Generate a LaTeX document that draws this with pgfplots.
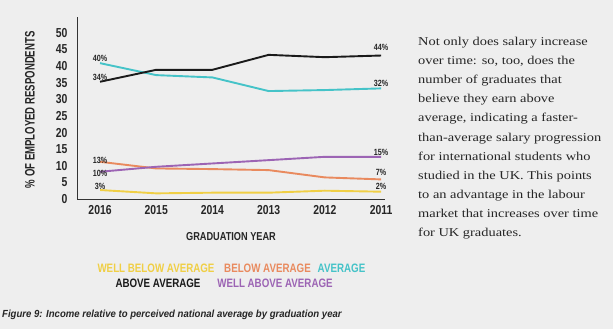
\documentclass[border=0pt]{standalone}
\usepackage{pgfplots}
\pgfplotsset{compat=1.18}
\usepackage{fontspec}
\setmainfont{Liberation Serif}
\newfontfamily\cond[FakeStretch=0.8]{Liberation Sans}
\newfontfamily\condn[FakeStretch=0.7]{Liberation Sans}
\newfontfamily\capf[FakeStretch=0.93]{Liberation Sans}
\newfontfamily\rtext[FakeStretch=1.2]{Liberation Serif}
\definecolor{bg}{HTML}{EEEEEE}
\definecolor{cteal}{HTML}{45C3C8}
\definecolor{corange}{HTML}{E98A5E}
\definecolor{cpurple}{HTML}{9C64B4}
\definecolor{cyellow}{HTML}{F0CF45}
\definecolor{cblack}{HTML}{1A1A1A}
\begin{document}
\begin{tikzpicture}[x=1pt,y=1pt]
\fill[bg] (0,0) rectangle (613,329);
\begin{axis}[
  scale only axis, width=308pt, height=182pt,
  at={(77pt,130pt)}, anchor=south west,
  xmin=-0.41, xmax=5.07, ymin=0, ymax=54.8,
  axis x line=bottom, axis y line=left,
  axis line style={-, line width=0.9pt, color=black!80},
  xtick={0,1,2,3,4,5}, xticklabels={2016,2015,2014,2013,2012,2011},
  ytick={0,5,10,15,20,25,30,35,40,45,50},
  major tick length=0pt,
  /pgf/number format/assume math mode=true,
  tick label style={font=\cond\bfseries\fontsize{13}{13}\selectfont, text=black!85},
  yticklabel style={xshift=-6pt},
  xticklabel style={yshift=-3pt},
  xlabel={GRADUATION YEAR},
  xlabel style={at={(axis description cs:0.5,0)}, anchor=center, yshift=-38pt,
    font=\cond\bfseries\fontsize{11.5}{11.5}\selectfont, text=black!85},
  ylabel={\% OF EMPLOYED RESPONDENTS},
  ylabel style={at={(axis description cs:-0.153,0.49)}, anchor=center,
    font=\condn\bfseries\fontsize{13.7}{13.7}\selectfont, text=black!85},
  every axis plot/.append style={line width=1.9pt},
  clip=false,
]
\addplot[cyellow] coordinates {(0,2.7) (1,1.7) (2,1.9) (3,1.9) (4,2.5) (5,2.2)};
\addplot[corange] coordinates {(0,11.2) (1,9.2) (2,9.0) (3,8.7) (4,6.5) (5,5.9)};
\addplot[cteal] coordinates {(0,40.9) (1,37.3) (2,36.6) (3,32.5) (4,32.8) (5,33.3)};
\addplot[cblack] coordinates {(0,35.3) (1,38.9) (2,38.9) (3,43.4) (4,42.7) (5,43.2)};
\addplot[cpurple] coordinates {(0,8.2) (1,9.7) (2,10.7) (3,11.7) (4,12.7) (5,12.7)};
\begin{scope}[every node/.style={font=\cond\bfseries\fontsize{9}{9}\selectfont, text=black!85, inner sep=0pt}]
\node at (axis cs:0,42.2) {40\%};
\node at (axis cs:0,36.7) {34\%};
\node at (axis cs:0,11.5) {13\%};
\node at (axis cs:0,7.8) {10\%};
\node at (axis cs:0,3.7) {3\%};
\node at (axis cs:5.0,45.5) {44\%};
\node at (axis cs:5.0,34.9) {32\%};
\node at (axis cs:5.0,13.9) {15\%};
\node at (axis cs:5.0,7.9) {7\%};
\node at (axis cs:5.0,3.9) {2\%};
\end{scope}
\end{axis}
\begin{scope}[every node/.style={font=\cond\bfseries\fontsize{12.2}{12.2}\selectfont, inner sep=0pt}]
\node[text=cyellow] at (156,61) {WELL BELOW AVERAGE};
\node[text=corange] at (267.5,61) {BELOW AVERAGE};
\node[text=cteal] at (341.5,61) {AVERAGE};
\node[text=cblack] at (158,46) {ABOVE AVERAGE};
\node[text=cpurple] at (275,46) {WELL ABOVE AVERAGE};
\end{scope}
\node[anchor=west, inner sep=0pt, font=\capf\bfseries\itshape\fontsize{10.3}{10.3}\selectfont, text=black!85] at (2,14)
  {Figure 9: Income relative to perceived national average by graduation year};
\node[anchor=north west, inner sep=0pt, align=left, font=\rtext\fontsize{12}{19.1}\selectfont, text=black!85] at (418,292)
  {Not only does salary increase\\over time: so, too, does the\\number of graduates that\\believe they earn above\\average, indicating a faster-\\than-average salary progression\\for international students who\\studied in the UK. This points\\to an advantage in the labour\\market that increases over time\\for UK graduates.};
\end{tikzpicture}
\end{document}
